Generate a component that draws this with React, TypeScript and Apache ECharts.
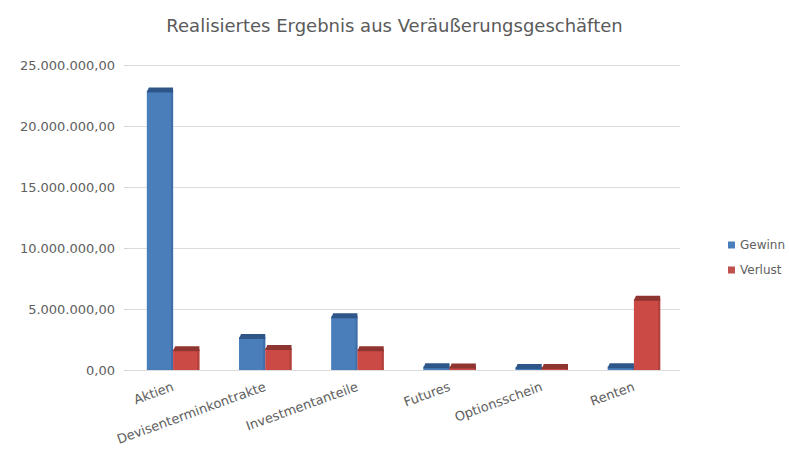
import React, { useEffect, useRef } from "react";
import * as echarts from "echarts";

const categories = ["Aktien", "Devisenterminkontrakte", "Investmentanteile", "Futures", "Optionsschein", "Renten"];
const gewinn = [22900000, 2700000, 4400000, 300000, 250000, 300000];
const verlust = [1700000, 1800000, 1700000, 280000, 250000, 5850000];
const seriesNames = ["Gewinn", "Verlust"];
const yTicks = { min: 0, max: 25000000, interval: 5000000 };

function fmtDE(v: number): string {
  const neg = v < 0;
  const abs = Math.abs(v);
  const intPart = Math.floor(abs).toString();
  const withDots = intPart.replace(/\B(?=(\d{3})+(?!\d))/g, ".");
  const dec = Math.round((abs - Math.floor(abs)) * 100).toString().padStart(2, "0");
  return (neg ? "-" : "") + withDots + "," + dec;
}

function makeRender(idx: number, face: string, cap: string, side: string) {
  return (params: any, api: any) => {
    const cat = api.value(0);
    const val = api.value(1);
    const top = api.coord([cat, val]);
    const base = api.coord([cat, 0]);
    const bandW = api.size([1, 0])[0];
    const barW = bandW * 0.285;
    const x = idx === 0 ? top[0] - barW : top[0];
    const y = top[1];
    const y0 = base[1];
    const d = 4;
    return {
      type: "group",
      children: [
        {
          type: "rect",
          shape: { x: x, y: y, width: barW, height: Math.max(y0 - y, 0) },
          style: { fill: face },
        },
        {
          type: "rect",
          shape: { x: x + barW - 2, y: y, width: 2, height: Math.max(y0 - y, 0) },
          style: { fill: side },
        },
        {
          type: "polygon",
          shape: {
            points: [
              [x, y + 2],
              [x + 2, y - d + 1],
              [x + barW, y - d + 1],
              [x + barW, y + 2],
            ],
          },
          style: { fill: cap },
        },
      ],
    };
  };
}

export default function App() {
  const ref = useRef<HTMLDivElement>(null);
  useEffect(() => {
    document.body.style.margin = "0";
    if (!ref.current) return;
    const chart = echarts.init(ref.current, undefined, { renderer: "svg" });
    const font = "'DejaVu Sans', sans-serif";
    chart.setOption({
      animation: false,
      backgroundColor: "#ffffff",
      title: {
        text: "Realisiertes Ergebnis aus Veräußerungsgeschäften",
        left: "center",
        top: 11,
        textStyle: { fontFamily: font, fontSize: 18, fontWeight: "normal", color: "#5a5a5a" },
      },
      legend: {
        orient: "vertical",
        left: 723,
        top: 234,
        itemWidth: 7,
        itemHeight: 7,
        itemGap: 13,
        icon: "rect",
        textStyle: { fontFamily: font, fontSize: 12, color: "#606060" },
        data: seriesNames,
      },
      grid: { left: 127, right: 109, top: 65, bottom: 82 },
      xAxis: {
        type: "category",
        data: categories,
        axisLine: { show: false },
        axisTick: { show: false },
        axisLabel: {
          interval: 0,
          rotate: 20,
          fontFamily: font,
          fontSize: 13,
          color: "#606060",
          margin: 16,
        },
      },
      yAxis: {
        type: "value",
        min: yTicks.min,
        max: yTicks.max,
        interval: yTicks.interval,
        axisLine: { show: false },
        axisTick: { show: true, length: 3, lineStyle: { color: "#d0d0d0" } },
        splitLine: { lineStyle: { color: "#dcdcdc", width: 1 } },
        axisLabel: {
          formatter: (v: number) => fmtDE(v),
          fontFamily: font,
          fontSize: 13,
          color: "#606060",
          margin: 12,
        },
      },
      series: [
        {
          name: seriesNames[0],
          type: "custom",
          itemStyle: { color: "#4a7ebb" },
          renderItem: makeRender(0, "#4a7ebb", "#2f5688", "#3f6ea8"),
          encode: { x: 0, y: 1 },
          data: gewinn.map((v, i) => [i, v]),
        },
        {
          name: seriesNames[1],
          type: "custom",
          itemStyle: { color: "#c0504d" },
          renderItem: makeRender(1, "#cc4a45", "#8e3431", "#b0403c"),
          encode: { x: 0, y: 1 },
          data: verlust.map((v, i) => [i, v]),
        },
      ],
    });
    return () => chart.dispose();
  }, []);
  return <div ref={ref} style={{ width: 789, height: 452 }} />;
}
